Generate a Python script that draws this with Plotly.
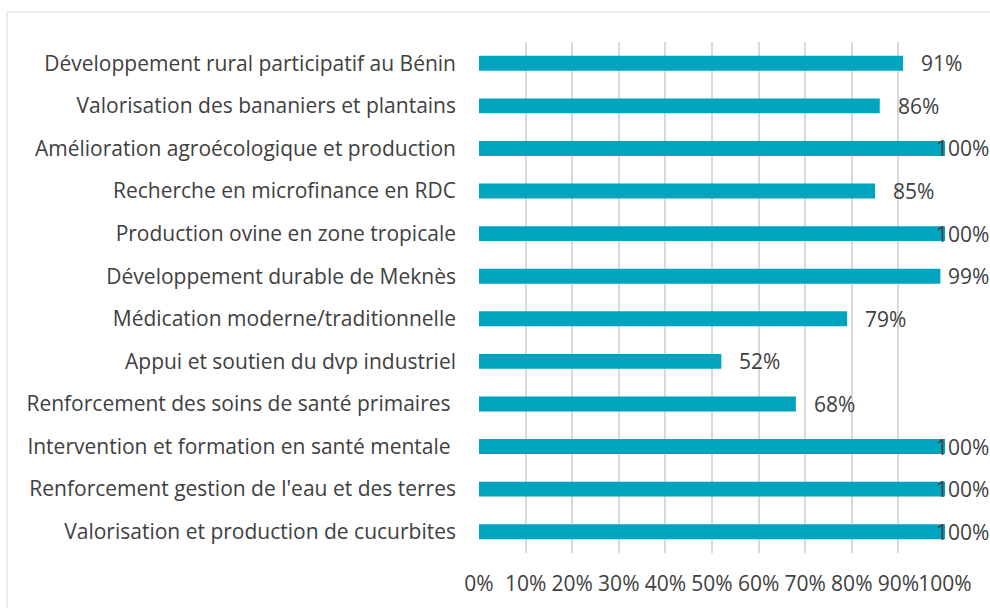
import plotly.graph_objects as go

projects = [
    "Développement rural participatif au Bénin",
    "Valorisation des bananiers et plantains",
    "Amélioration agroécologique et production",
    "Recherche en microfinance en RDC",
    "Production ovine en zone tropicale",
    "Développement durable de Meknès",
    "Médication moderne/traditionnelle",
    "Appui et soutien du dvp industriel",
    "Renforcement des soins de santé primaires\u00a0",
    "Intervention et formation en santé mentale\u00a0",
    "Renforcement gestion de l'eau et des terres",
    "Valorisation et production de cucurbites",
]
taux = [91, 86, 100, 85, 100, 99, 79, 52, 68, 100, 100, 100]
x_ticks = list(range(0, 101, 10))

teal = "#01A4BF"
txt = "#404040"
font_name = "Open Sans"
fsize = 21

fig = go.Figure(go.Bar(
    x=taux, y=projects, orientation="h",
    marker=dict(color=teal, line=dict(width=0)),
    width=0.35, hoverinfo="x+y",
))

# data labels, pulled left when they would run out of the chart area (Excel style)
px_per_pct = 466 / 100
annotations = []
for p, v in zip(projects, taux):
    label = f"{v}%"
    room = 508 - v * px_per_pct
    est_width = 12 * (len(label) - 1) + 17
    shift = min(16, room - est_width)
    annotations.append(dict(x=v, y=p, xref="x", yref="y", text=label,
                            xanchor="left", xshift=shift, showarrow=False,
                            font=dict(family=font_name, size=fsize, color=txt)))

fig.update_layout(
    width=990, height=608,
    margin=dict(l=479, r=45, t=42, b=55, autoexpand=False),
    paper_bgcolor="white", plot_bgcolor="white",
    showlegend=False,
    annotations=annotations,
    font=dict(family=font_name, size=fsize, color=txt),
    shapes=[dict(type="rect", xref="paper", yref="paper",
                 x0=-1.0129, x1=2, y0=-1, y1=1.0587,
                 line=dict(color="#d9d9d9", width=1), layer="below")],
)
fig.update_xaxes(range=[0, 100], tickvals=x_ticks,
                 ticktext=[f"{t}%" for t in x_ticks], tickangle=0,
                 showgrid=True, gridcolor="#d9d9d9", gridwidth=1.5,
                 zeroline=False, showline=False, ticks="", automargin=False,
                 ticklabelstandoff=16, fixedrange=True)
fig.update_yaxes(autorange="reversed", showgrid=False, zeroline=False,
                 showline=False, ticks="", ticklabelstandoff=22,
                 automargin=False, fixedrange=True)

# page has a default 8px body margin; drop it so the figure fills the window
fig.write_html("out.html", config={"displayModeBar": False},
               post_script="document.body.style.margin='0';")
